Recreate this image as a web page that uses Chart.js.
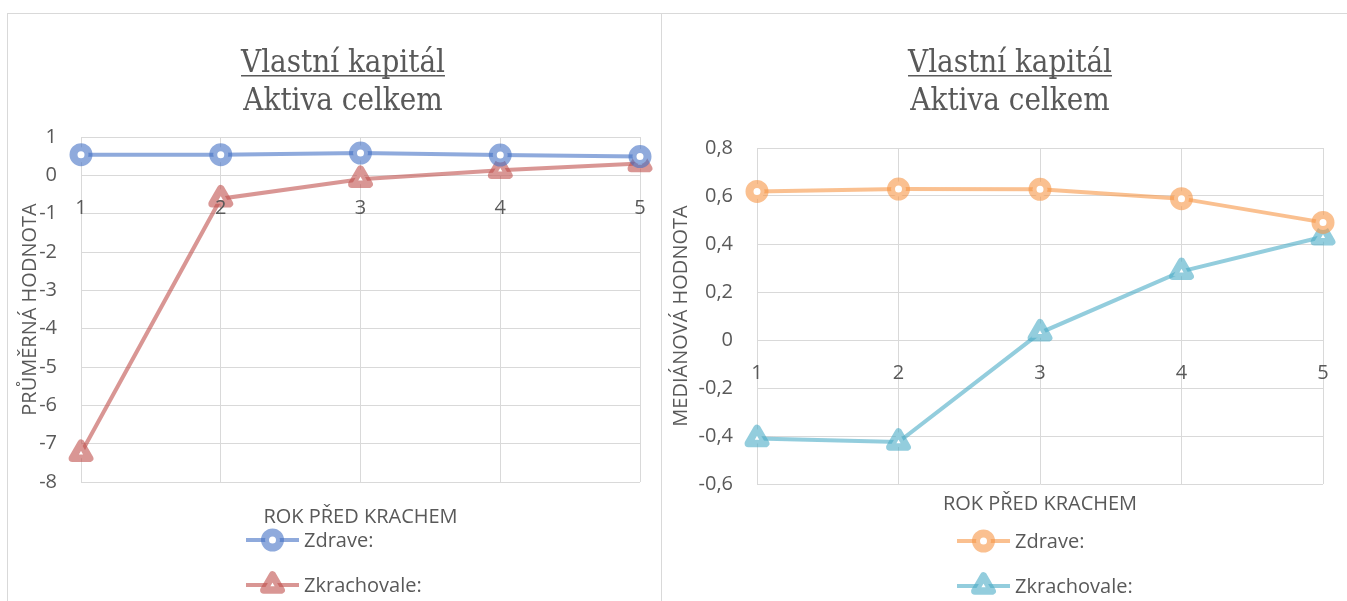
<!DOCTYPE html>
<html lang="cs">
<head>
  <meta charset="UTF-8">
  <title>Vlastní kapitál / Aktiva celkem</title>
  <script src="https://cdn.jsdelivr.net/npm/chart.js"></script>
  <style>
    body { margin: 0; background: #fff; }
    .frame {
      position: absolute; left: 7px; top: 13px; width: 1340px; height: 588px;
      border-left: 1px solid #d9d9d9; border-top: 1px solid #d9d9d9;
    }
    .divider { position: absolute; left: 661px; top: 13px; width: 1px; height: 588px; background: #d9d9d9; }
    #meanChart { position: absolute; left: 8px; top: 14px; }
    #medianChart { position: absolute; left: 662px; top: 14px; }
  </style>
</head>
<body>
  <div class="frame"></div>
  <div class="divider"></div>
  <canvas id="meanChart" width="653" height="587"></canvas>
  <canvas id="medianChart" width="685" height="587"></canvas>

  <script>
    // roky před krachem
    const years = ['1', '2', '3', '4', '5'];

    // průměrné hodnoty
    const meanHealthy = [0.54, 0.54, 0.58, 0.53, 0.49];
    const meanBankrupt = [-7.25, -0.61, -0.1, 0.13, 0.31];
    const meanRange = [-8, 1];
    const meanStep = 1;

    // mediánové hodnoty
    const medianHealthy = [0.619, 0.629, 0.628, 0.589, 0.49];
    const medianBankrupt = [-0.41, -0.425, 0.03, 0.286, 0.43];
    const medianRange = [-0.6, 0.8];
    const medianStep = 0.2;

    const headingLines = ['Vlastní kapitál', 'Aktiva celkem'];
    const seriesNames = ['Zdrave:', 'Zkrachovale:'];

    const TEXT = '#595959';
    const GRID = '#d9d9d9';
    const labelFont = { family: 'Open Sans', size: 20 };

    Chart.defaults.font.family = 'Open Sans';
    Chart.defaults.color = TEXT;

    function series(label, data, color, shape) {
      const tri = shape === 'triangle';
      return {
        label: label,
        data: data,
        borderColor: color,
        borderWidth: 4,
        pointStyle: shape,
        pointRadius: tri ? 10 : 7.5,
        pointHoverRadius: tri ? 10 : 7.5,
        pointBorderWidth: tri ? 7.5 : 8,
        pointHoverBorderWidth: tri ? 7.5 : 8,
        pointBorderColor: color,
        pointBackgroundColor: '#fff',
        tension: 0,
        clip: false
      };
    }

    // two-line heading, first line underlined
    const heading = {
      id: 'heading',
      afterDraw(chart, args, opts) {
        const ctx = chart.ctx;
        ctx.save();
        ctx.font = opts.font;
        ctx.fillStyle = TEXT;
        ctx.textAlign = 'center';
        ctx.textBaseline = 'alphabetic';
        opts.lines.forEach((t, i) => {
          const y = opts.baselines[i];
          ctx.fillText(t, opts.x, y);
          if (i === 0) {
            const w = ctx.measureText(t).width;
            ctx.fillRect(opts.x - w / 2, y + 3, w, 1.5);
          }
        });
        ctx.restore();
      }
    };

    // legend stacked in a column: line sample with marker, then label
    const columnLegend = {
      id: 'columnLegend',
      afterDraw(chart, args, opts) {
        const ctx = chart.ctx;
        chart.data.datasets.forEach((ds, i) => {
          const y = opts.y + i * opts.gap;
          ctx.save();
          ctx.strokeStyle = ds.borderColor;
          ctx.lineWidth = ds.borderWidth;
          ctx.beginPath();
          ctx.moveTo(opts.x, y);
          ctx.lineTo(opts.x + opts.len, y);
          ctx.stroke();
          ctx.lineJoin = 'round';
          ctx.strokeStyle = ds.pointBorderColor;
          ctx.lineWidth = ds.pointBorderWidth;
          ctx.fillStyle = ds.pointBackgroundColor;
          Chart.helpers.drawPoint(ctx, {
            pointStyle: ds.pointStyle, radius: ds.pointRadius,
            borderWidth: ds.pointBorderWidth, rotation: 0
          }, opts.x + opts.len / 2, y);
          ctx.font = '20px "Open Sans"';
          ctx.fillStyle = TEXT;
          ctx.textAlign = 'left';
          ctx.textBaseline = 'middle';
          ctx.fillText(ds.label, opts.x + opts.len + 5, y + 1);
          ctx.restore();
        });
      }
    };

    // rounded marker corners
    const roundJoins = {
      id: 'roundJoins',
      beforeDatasetsDraw(chart) { chart.ctx.save(); chart.ctx.lineJoin = 'round'; },
      afterDatasetsDraw(chart) { chart.ctx.restore(); }
    };

    function noPadding(s) { s.paddingTop = 0; s.paddingBottom = 0; s.paddingLeft = 0; s.paddingRight = 0; }

    function buildChart(id, cfg) {
      return new Chart(document.getElementById(id), {
        type: 'line',
        data: {
          labels: years,
          datasets: [
            series(seriesNames[0], cfg.healthy, cfg.colors[0], 'circle'),
            series(seriesNames[1], cfg.bankrupt, cfg.colors[1], 'triangle')
          ]
        },
        options: {
          responsive: false,
          animation: false,
          events: [],
          devicePixelRatio: 1,
          layout: { padding: cfg.padding },
          scales: {
            x: {
              type: 'category',
              position: { y: 0 },
              offset: false,
              grid: { color: GRID, drawTicks: false },
              border: { color: GRID, z: -1 },
              ticks: { padding: 21, color: TEXT, font: labelFont, maxRotation: 0, z: 1 },
              afterFit(s) { s.height = 0; noPadding(s); }
            },
            xt: {
              type: 'category',
              position: 'bottom',
              grid: { display: false },
              border: { display: false },
              ticks: { display: false },
              title: {
                display: true, text: 'ROK PŘED KRACHEM', color: TEXT, font: labelFont,
                padding: { top: 0, bottom: cfg.xTitlePad }
              },
              afterFit(s) { s.height = cfg.xTitleBox; noPadding(s); }
            },
            y: {
              min: cfg.range[0],
              max: cfg.range[1],
              grid: { color: GRID, drawTicks: false },
              border: { color: GRID, z: -1 },
              ticks: {
                stepSize: cfg.step, padding: 24, color: TEXT, font: labelFont,
                callback: cfg.tickFormat
              },
              title: {
                display: true, text: cfg.yTitle, color: TEXT, font: labelFont,
                padding: { top: cfg.yTitlePad, bottom: 0 }
              },
              afterFit(s) { s.width = cfg.yWidth; noPadding(s); }
            }
          },
          plugins: {
            legend: { display: false },
            tooltip: { enabled: false },
            heading: {
              lines: headingLines, x: cfg.headingX, baselines: [58, 96],
              font: '31px "DejaVu Serif Condensed", "DejaVu Serif"'
            },
            columnLegend: { x: cfg.legendX, y: cfg.legendY, gap: 45, len: 53 }
          }
        },
        plugins: [roundJoins, heading, columnLegend]
      });
    }

    buildChart('meanChart', {
      healthy: meanHealthy,
      bankrupt: meanBankrupt,
      colors: ['rgba(68,114,196,0.6)', 'rgba(192,80,77,0.6)'],
      range: meanRange,
      step: meanStep,
      yTitle: 'PRŮMĚRNÁ HODNOTA',
      tickFormat: v => String(v),
      padding: { top: 123, left: 0, right: 21, bottom: 69 },
      yWidth: 73,
      yTitlePad: 10,
      xTitleBox: 50,
      xTitlePad: 3,
      headingX: 335,
      legendX: 238,
      legendY: 526
    });

    buildChart('medianChart', {
      healthy: medianHealthy,
      bankrupt: medianBankrupt,
      colors: ['rgba(247,150,70,0.6)', 'rgba(75,172,198,0.6)'],
      range: medianRange,
      step: medianStep,
      yTitle: 'MEDIÁNOVÁ HODNOTA',
      tickFormat: v => Math.abs(v) < 1e-9 ? '0' : v.toFixed(1).replace('.', ','),
      padding: { top: 134, left: 0, right: 24, bottom: 77 },
      yWidth: 95,
      yTitlePad: 7,
      xTitleBox: 40,
      xTitlePad: 8,
      headingX: 348,
      legendX: 295,
      legendY: 527
    });
  </script>
</body>
</html>
